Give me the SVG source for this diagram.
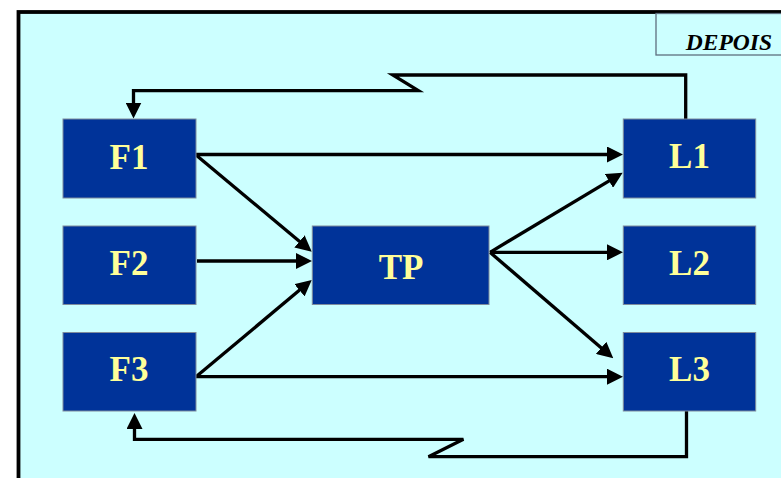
<svg xmlns="http://www.w3.org/2000/svg" width="781" height="478" viewBox="0 0 781 478">
<style>
.node rect{fill:#003399;stroke:#7f8c9c;stroke-width:1}
.node text{fill:#FFFF99;font-family:"Liberation Serif","Times New Roman",serif;font-weight:bold;font-size:35px;text-anchor:middle}
.conn path{fill:none;stroke:#000;stroke-width:3.3}
</style>
<defs>
<marker id="ah" viewBox="0 0 16 16" refX="8" refY="8" markerWidth="16" markerHeight="16" markerUnits="userSpaceOnUse" orient="auto">
<path d="M0,0 L16,8 L0,16 z" fill="#000"/>
</marker>
</defs>
<rect x="0" y="0" width="781" height="478" fill="#fff"/>
<rect id="frame" x="18.5" y="12" width="800" height="500" fill="#CCFFFF" stroke="#000" stroke-width="3.8"/>
<g id="label-depois">
<rect x="656" y="13.5" width="140" height="41.5" fill="#CCFFFF" stroke="#5f6f7f" stroke-width="1.3"/>
<text x="772" y="49.5" text-anchor="end" font-family="Liberation Serif, Times New Roman, serif" font-weight="bold" font-style="italic" font-size="23.5" fill="#000">DEPOIS</text>
</g>
<g class="conn" id="connectors">
<path d="M196,154.5 H615" marker-end="url(#ah)"/>
<path d="M196,376.7 H615" marker-end="url(#ah)"/>
<path d="M197,261 H304" marker-end="url(#ah)"/>
<path d="M490,252.3 H615" marker-end="url(#ah)"/>
<path d="M196,155 L305.6,246.6" marker-end="url(#ah)"/>
<path d="M196,376.7 L305.6,285.1" marker-end="url(#ah)"/>
<path d="M490,252.3 L615.8,176.8" marker-end="url(#ah)"/>
<path d="M490,252.3 L607.2,353.1" marker-end="url(#ah)"/>
<path d="M685.7,119 V75 H392.7 L418.3,90.7 H133.5 V110.5" marker-end="url(#ah)"/>
<path d="M686.5,411 V456.7 H428.5 L463.4,439.3 H134.5 V421" marker-end="url(#ah)"/>
</g>
<g class="node" id="F1"><rect x="63" y="119" width="133" height="79"/><text x="129" y="168.5">F1</text></g>
<g class="node" id="F2"><rect x="63" y="226" width="133" height="78.5"/><text x="129" y="274.5">F2</text></g>
<g class="node" id="F3"><rect x="63" y="332.5" width="133" height="78.5"/><text x="129" y="381">F3</text></g>
<g class="node" id="TP"><rect x="312.3" y="226" width="176.7" height="78.5"/><text x="401" y="278.5">TP</text></g>
<g class="node" id="L1"><rect x="623.3" y="119" width="132.4" height="79"/><text x="689.5" y="168">L1</text></g>
<g class="node" id="L2"><rect x="623.3" y="226" width="132.4" height="78.5"/><text x="689.5" y="274.5">L2</text></g>
<g class="node" id="L3"><rect x="623.3" y="332.5" width="132.4" height="78.5"/><text x="689.5" y="381">L3</text></g>
</svg>
